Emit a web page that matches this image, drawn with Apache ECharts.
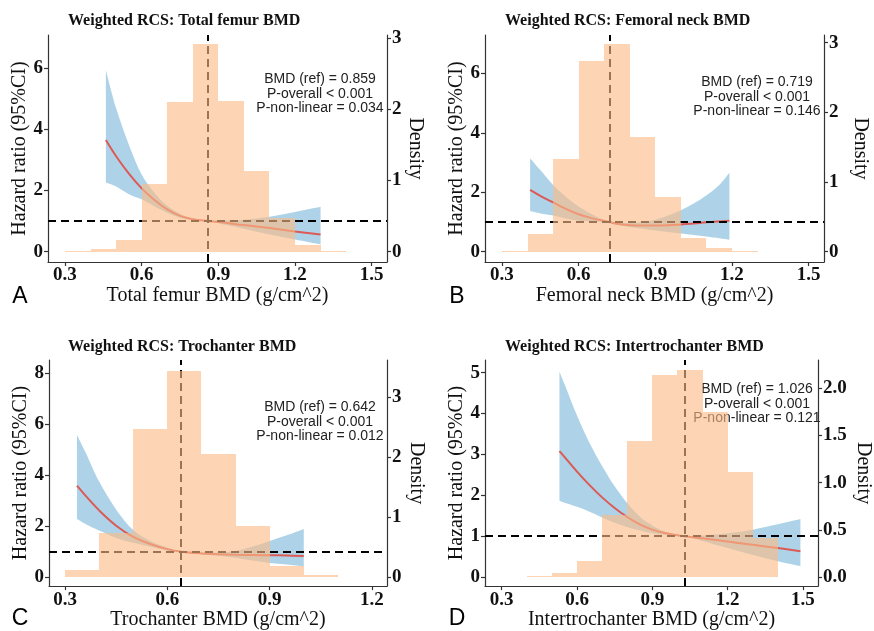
<!DOCTYPE html>
<html>
<head>
<meta charset="utf-8">
<title>Weighted RCS</title>
<script src="https://cdn.jsdelivr.net/npm/echarts@6/dist/echarts.min.js"></script>
<style>
  html, body { margin: 0; padding: 0; background: #fff; }
  #chart { width: 874px; height: 631px; }
</style>
</head>
<body>
<div id="chart"></div>
<script>
// ---- data ----
// A: total femur
const totalX = [0.46, 0.50, 0.55, 0.60, 0.65, 0.70, 0.75, 0.80, 0.859, 0.90, 1.00, 1.10, 1.20, 1.30];
const totalHR = [3.65, 3.12, 2.55, 2.07, 1.69, 1.38, 1.17, 1.06, 1.00, 0.97, 0.87, 0.77, 0.66, 0.56];
const totalLower = [2.26, 2.13, 1.88, 1.71, 1.48, 1.27, 1.11, 1.03, 1.00, 0.93, 0.75, 0.56, 0.40, 0.24];
const totalUpper = [5.94, 4.70, 3.50, 2.52, 1.93, 1.50, 1.24, 1.09, 1.00, 1.01, 1.04, 1.14, 1.30, 1.47];
const totalEdges = [0.3, 0.4, 0.5, 0.6, 0.7, 0.8, 0.9, 1.0, 1.1, 1.2, 1.3, 1.4];
const totalDensity = [0.015, 0.04, 0.17, 0.95, 2.10, 2.92, 2.11, 1.13, 0.47, 0.09, 0.015];

// B: femoral neck
const neckX = [0.41, 0.45, 0.50, 0.55, 0.60, 0.65, 0.719, 0.75, 0.80, 0.85, 0.90, 0.95, 1.00, 1.05, 1.10, 1.15, 1.19];
const neckHR = [2.08, 1.88, 1.66, 1.44, 1.26, 1.13, 1.00, 0.94, 0.895, 0.88, 0.88, 0.89, 0.92, 0.95, 0.99, 1.02, 1.04];
const neckLower = [1.37, 1.29, 1.22, 1.12, 1.04, 1.02, 1.00, 0.91, 0.83, 0.77, 0.71, 0.66, 0.61, 0.56, 0.51, 0.45, 0.40];
const neckUpper = [3.15, 2.75, 2.25, 1.85, 1.52, 1.27, 1.00, 0.97, 0.97, 1.01, 1.08, 1.22, 1.40, 1.62, 1.90, 2.25, 2.66];
const neckEdges = [0.3, 0.4, 0.5, 0.6, 0.7, 0.8, 0.9, 1.0, 1.1, 1.2, 1.3];
const neckDensity = [0.015, 0.25, 1.33, 2.74, 2.98, 1.65, 0.79, 0.19, 0.06, 0.015];

// C: trochanter
const trochX = [0.335, 0.36, 0.40, 0.45, 0.50, 0.55, 0.60, 0.642, 0.70, 0.75, 0.80, 0.85, 0.90, 0.95, 1.00];
const trochHR = [3.59, 3.20, 2.62, 2.02, 1.58, 1.30, 1.10, 1.00, 0.93, 0.90, 0.88, 0.87, 0.86, 0.85, 0.83];
const trochLower = [2.28, 2.09, 1.83, 1.54, 1.35, 1.19, 1.04, 1.00, 0.90, 0.84, 0.76, 0.65, 0.56, 0.50, 0.43];
const trochUpper = [5.58, 4.90, 3.75, 2.65, 1.85, 1.42, 1.16, 1.00, 0.96, 0.97, 1.03, 1.20, 1.42, 1.64, 1.89];
const trochEdges = [0.3, 0.4, 0.5, 0.6, 0.7, 0.8, 0.9, 1.0, 1.1];
const trochDensity = [0.12, 0.73, 2.48, 3.45, 2.06, 0.85, 0.18, 0.03];

// D: intertrochanter
const interX = [0.53, 0.55, 0.60, 0.65, 0.70, 0.75, 0.80, 0.85, 0.90, 0.95, 1.026, 1.10, 1.20, 1.30, 1.40, 1.49];
const interHR = [3.08, 2.94, 2.58, 2.25, 1.95, 1.69, 1.47, 1.29, 1.16, 1.08, 1.00, 0.95, 0.87, 0.79, 0.71, 0.63];
const interLower = [1.87, 1.82, 1.72, 1.60, 1.46, 1.33, 1.22, 1.14, 1.07, 1.03, 1.00, 0.885, 0.71, 0.54, 0.39, 0.27];
const interUpper = [5.02, 4.72, 3.95, 3.28, 2.72, 2.22, 1.81, 1.48, 1.26, 1.11, 1.00, 1.02, 1.07, 1.16, 1.29, 1.42];
const interEdges = [0.4, 0.5, 0.6, 0.7, 0.8, 0.9, 1.0, 1.1, 1.2, 1.3, 1.4];
const interDensity = [0.01, 0.046, 0.17, 0.66, 1.44, 2.14, 2.19, 1.75, 1.11, 0.41];

// tick labels
const xTicksWide = [0.3, 0.6, 0.9, 1.2, 1.5];
const xTicksTroch = [0.3, 0.6, 0.9, 1.2];
const hrTicksTotal = [0, 2, 4, 6];
const hrTicksNeck = [0, 2, 4, 6];
const hrTicksTroch = [0, 2, 4, 6, 8];
const hrTicksInter = [0, 1, 2, 3, 4, 5];
const densTicks = [0, 1, 2, 3];
const densTicksInter = [0, 0.5, 1.0, 1.5, 2.0];

const SERIF = "'Liberation Serif', 'Times New Roman', serif";
const SANS = "'Liberation Sans', Arial, sans-serif";
const BLUE = 'rgba(107,174,214,0.55)';
const RED = '#dc5a55';
const HIST = 'rgba(252,188,134,0.62)';

const panels = [
    {
        letter: 'A', title: 'Weighted RCS: Total femur BMD', xName: 'Total femur BMD (g/cm^2)',
        x: totalX, hr: totalHR, lo: totalLower, hi: totalUpper, edges: totalEdges, dens: totalDensity,
        ref: 0.859, stats: ['BMD (ref) = 0.859', 'P-overall < 0.001', 'P-non-linear = 0.034'],
        ox: 0, oy: 0, left: 48, top: 35, width: 339, height: 227,
        xMin: 0.2335, xMax: 1.56, xTicks: xTicksWide, xDigits: 1,
        yMin: -0.34, yMax: 7.09, yTicks: hrTicksTotal, ratio: 2.33, dTicks: densTicks, dDigits: 0,
        statY: 79, densGap: 17
    },
    {
        letter: 'B', title: 'Weighted RCS: Femoral neck BMD', xName: 'Femoral neck BMD (g/cm^2)',
        x: neckX, hr: neckHR, lo: neckLower, hi: neckUpper, edges: neckEdges, dens: neckDensity,
        ref: 0.719, stats: ['BMD (ref) = 0.719', 'P-overall < 0.001', 'P-non-linear = 0.146'],
        ox: 437, oy: 0, left: 48, top: 35, width: 339, height: 227,
        xMin: 0.2335, xMax: 1.56, xTicks: xTicksWide, xDigits: 1,
        yMin: -0.347, yMax: 7.30, yTicks: hrTicksNeck, ratio: 2.347, dTicks: densTicks, dDigits: 0,
        statY: 82, densGap: 26
    },
    {
        letter: 'C', title: 'Weighted RCS: Trochanter BMD', xName: 'Trochanter BMD (g/cm^2)',
        x: trochX, hr: trochHR, lo: trochLower, hi: trochUpper, edges: trochEdges, dens: trochDensity,
        ref: 0.642, stats: ['BMD (ref) = 0.642', 'P-overall < 0.001', 'P-non-linear = 0.012'],
        ox: 0, oy: 320, left: 49, top: 40, width: 338, height: 227,
        xMin: 0.253, xMax: 1.244, xTicks: xTicksTroch, xDigits: 1,
        yMin: -0.35, yMax: 8.52, yTicks: hrTicksTroch, ratio: 2.35, dTicks: densTicks, dDigits: 0,
        statY: 87, densGap: 19
    },
    {
        letter: 'D', title: 'Weighted RCS: Intertrochanter BMD', xName: 'Intertrochanter BMD (g/cm^2)',
        x: interX, hr: interHR, lo: interLower, hi: interUpper, edges: interEdges, dens: interDensity,
        ref: 1.026, stats: ['BMD (ref) = 1.026', 'P-overall < 0.001', 'P-non-linear = 0.121'],
        ox: 437, oy: 320, left: 48, top: 40, width: 339, height: 227,
        xMin: 0.2335, xMax: 1.56, xTicks: xTicksWide, xDigits: 1,
        yMin: -0.22, yMax: 5.31, yTicks: hrTicksInter, ratio: 2.31, dTicks: densTicksInter, dDigits: 1,
        statY: 69, densGap: 35
    }
];

// smooth curve through pixel points (Catmull-Rom as cubic Bezier)
function curvePath(pts, start) {
    let d = (start ? 'M' : 'L') + pts[0][0] + ' ' + pts[0][1];
    for (let i = 0; i < pts.length - 1; i++) {
        const p0 = pts[i - 1] || pts[i], p1 = pts[i], p2 = pts[i + 1], p3 = pts[i + 2] || pts[i + 1];
        const c1 = [p1[0] + (p2[0] - p0[0]) / 6, p1[1] + (p2[1] - p0[1]) / 6];
        const c2 = [p2[0] - (p3[0] - p1[0]) / 6, p2[1] - (p3[1] - p1[1]) / 6];
        d += ' C' + c1[0] + ' ' + c1[1] + ' ' + c2[0] + ' ' + c2[1] + ' ' + p2[0] + ' ' + p2[1];
    }
    return d;
}

const axisLine = { show: true, onZero: false, lineStyle: { color: '#333', width: 1.2 } };
const axisTick = (vals) => ({ show: true, length: 4, customValues: vals, lineStyle: { color: '#333', width: 1.2 } });
const tickFont = { fontFamily: SERIF, fontWeight: 'bold', fontSize: 19, color: '#111' };
const nameFont = { fontFamily: SERIF, fontSize: 20, color: '#111' };

const grid = [], xAxis = [], yAxis = [], series = [], graphic = [];

panels.forEach(function (p, i) {
    grid.push({ left: p.ox + p.left, top: p.oy + p.top, width: p.width, height: p.height });

    xAxis.push({
        type: 'value', gridIndex: i, min: p.xMin, max: p.xMax,
        name: p.xName, nameLocation: 'middle', nameGap: 23, nameTextStyle: nameFont,
        axisLine: axisLine, axisTick: axisTick(p.xTicks), splitLine: { show: false },
        axisLabel: Object.assign({ customValues: p.xTicks, margin: 4,
            formatter: (v) => v.toFixed(p.xDigits) }, tickFont)
    });
    // left: hazard ratio
    yAxis.push({
        type: 'value', gridIndex: i, position: 'left', min: p.yMin, max: p.yMax,
        name: 'Hazard ratio (95%CI)', nameLocation: 'middle', nameGap: 18, nameTextStyle: nameFont,
        axisLine: axisLine, axisTick: axisTick(p.yTicks), splitLine: { show: false },
        axisLabel: Object.assign({ customValues: p.yTicks, margin: 5 }, tickFont)
    });
    // right: density, aligned with the hazard ratio scale
    yAxis.push({
        type: 'value', gridIndex: i, position: 'right', min: p.yMin / p.ratio, max: p.yMax / p.ratio,
        name: 'Density', nameLocation: 'middle', nameRotate: -90, nameGap: p.densGap, nameTextStyle: nameFont,
        axisLine: axisLine, axisTick: axisTick(p.dTicks), splitLine: { show: false },
        axisLabel: Object.assign({ customValues: p.dTicks, margin: 5,
            formatter: (v) => v.toFixed(p.dDigits) }, tickFont)
    });

    const yl = 2 * i, yr = 2 * i + 1;
    // 95% CI band between lower and upper limits
    series.push({
        type: 'custom', xAxisIndex: i, yAxisIndex: yl, z: 2, silent: true,
        encode: { x: 0, y: [1, 2] },
        data: p.x.map((v, j) => [v, p.lo[j], p.hi[j]]),
        renderItem: function (params, api) {
            if (params.dataIndex !== 0) return null;
            const up = p.x.map((v, j) => api.coord([v, p.hi[j]]));
            const dn = p.x.map((v, j) => api.coord([v, p.lo[j]])).reverse();
            return {
                type: 'path',
                shape: { pathData: curvePath(up, true) + ' ' + curvePath(dn, false) + ' Z' },
                style: { fill: BLUE }
            };
        }
    });
    // hazard ratio curve with reference lines
    series.push({
        type: 'line', xAxisIndex: i, yAxisIndex: yl, z: 3, silent: true,
        smooth: 0.4, symbol: 'none',
        lineStyle: { color: RED, width: 2 },
        data: p.x.map((v, j) => [v, p.hr[j]]),
        markLine: {
            silent: true, symbol: ['none', 'none'], label: { show: false },
            lineStyle: { color: '#000', width: 2, type: [8, 5] },
            data: [{ yAxis: 1 }, { xAxis: p.ref }]
        }
    });
    // histogram of BMD on the density axis, drawn over everything
    series.push({
        type: 'custom', xAxisIndex: i, yAxisIndex: yr, z: 10, silent: true,
        encode: { x: [0, 1], y: 2 },
        data: p.dens.map((d, j) => [p.edges[j], p.edges[j + 1], d]),
        renderItem: function (params, api) {
            const a = api.coord([api.value(0), api.value(2)]);
            const b = api.coord([api.value(1), 0]);
            const x0 = Math.round(a[0]), x1 = Math.round(b[0]);
            const y0 = Math.round(a[1]), y1 = Math.round(b[1]);
            return { type: 'rect', shape: { x: x0, y: y0, width: x1 - x0, height: y1 - y0 },
                style: { fill: HIST } };
        }
    });

    // titles, annotations, panel letters
    graphic.push({
        type: 'text', x: p.ox + 68, y: p.oy + (i < 2 ? 21 : 27), z: 1,
        style: { text: p.title, font: 'bold 16px ' + SERIF, fill: '#111', textVerticalAlign: 'middle' }
    });
    p.stats.forEach(function (s, k) {
        graphic.push({
            type: 'text', x: p.ox + 320, y: p.oy + p.statY + k * 14.7, z: 1,
            style: { text: s, font: '14px ' + SANS, fill: '#222', textAlign: 'center', textVerticalAlign: 'middle' }
        });
    });
    graphic.push({
        type: 'text', x: p.ox + 20, y: p.oy + (i < 2 ? 297 : 299), z: 1,
        style: { text: p.letter, font: '23px ' + SANS, fill: '#000', textAlign: 'center', textVerticalAlign: 'middle' }
    });
});

const chart = echarts.init(document.getElementById('chart'));
chart.setOption({
    animation: false,
    backgroundColor: '#fff',
    grid: grid,
    xAxis: xAxis,
    yAxis: yAxis,
    series: series,
    graphic: graphic
});
</script>
</body>
</html>
